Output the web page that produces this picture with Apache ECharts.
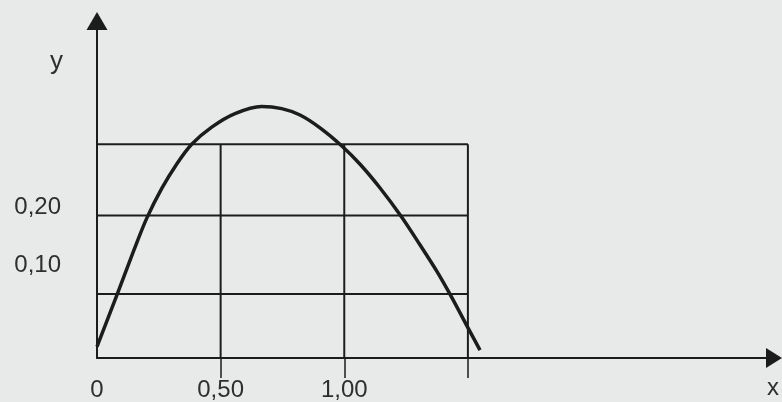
<!DOCTYPE html>
<html>
<head>
<meta charset="utf-8">
<script src="https://cdn.jsdelivr.net/npm/echarts@6/dist/echarts.min.js"></script>
<style>
html,body{margin:0;padding:0;background:#e8eae9;}
#chart{width:782px;height:402px;}
</style>
</head>
<body>
<div id="chart"></div>
<script>
// Curve
var curveX = [0, 0.080, 0.150, 0.201, 0.262, 0.322, 0.383, 0.464, 0.558, 0.666, 0.747, 0.821, 0.902, 0.989, 1.064, 1.144, 1.232, 1.306, 1.374, 1.427, 1.501, 1.549];
var curveY = [0.016, 0.088, 0.152, 0.196, 0.238, 0.272, 0.300, 0.324, 0.343, 0.353, 0.350, 0.341, 0.323, 0.298, 0.272, 0.239, 0.198, 0.159, 0.122, 0.090, 0.042, 0.011];
// Grid box lines (as drawn in the picture)
var hLineValues = [0.09, 0.20, 0.30];
var vLineValues = [0.50, 1.00, 1.50];
var boxRightX = 1.50;
var boxTopY = 0.30;
// Tick labels
var xTickValues = [0, 0.5, 1.0];
var xTickLabels = ['0', '0,50', '1,00'];
var xTickMarks = [0.5, 1.0, 1.5];
var yTickValues = [0.130, 0.212];
var yTickLabels = ['0,10', '0,20'];

var INK = '#1c1c1c';
var TXT = '#2e2e2e';
var FONT = 'Liberation Sans';

var series = [];
series.push({
  type: 'line',
  data: curveX.map(function (x, i) { return [x, curveY[i]]; }),
  smooth: 0.33,
  symbol: 'none',
  lineStyle: { color: INK, width: 3.5 },
  clip: false,
  z: 5
});
hLineValues.forEach(function (v) {
  series.push({
    type: 'line', symbol: 'none', silent: true,
    data: [[0, v], [boxRightX, v]],
    lineStyle: { color: INK, width: 2 }, z: 3
  });
});
vLineValues.forEach(function (v) {
  series.push({
    type: 'line', symbol: 'none', silent: true,
    data: [[v, 0], [v, boxTopY]],
    lineStyle: { color: INK, width: 2 }, z: 3
  });
});

var chart = echarts.init(document.getElementById('chart'), null, { renderer: 'canvas' });
chart.setOption({
  backgroundColor: '#e8eae9',
  animation: false,
  grid: { left: 97, right: 8, top: 21, bottom: 42 },
  xAxis: {
    type: 'value', min: 0, max: 2.738,
    name: 'x', nameLocation: 'end', nameGap: -1,
    nameTextStyle: { color: TXT, fontFamily: FONT, fontSize: 24, align: 'center', verticalAlign: 'top', padding: [18, 0, 0, 0] },
    axisLine: { show: true, onZero: false, symbol: ['none', 'triangle'], symbolSize: [20, 16], lineStyle: { color: INK, width: 2 } },
    axisTick: { show: true, customValues: xTickMarks, length: 20, lineStyle: { color: INK, width: 1.5 } },
    axisLabel: {
      customValues: xTickValues, margin: 20, color: TXT, fontFamily: FONT, fontSize: 24,
      formatter: function (v) { var i = xTickValues.indexOf(v); return i >= 0 ? xTickLabels[i] : ''; }
    },
    splitLine: { show: false }
  },
  yAxis: {
    type: 'value', min: 0, max: 0.473,
    name: 'y', nameLocation: 'end', nameGap: -41,
    nameTextStyle: { color: TXT, fontFamily: FONT, fontSize: 26, align: 'right', verticalAlign: 'middle', padding: [0, 34, 0, 0] },
    axisLine: { show: true, onZero: false, symbol: ['none', 'triangle'], symbolSize: [21, 18], lineStyle: { color: INK, width: 2 } },
    axisTick: { show: false },
    axisLabel: {
      customValues: yTickValues, margin: 36, color: TXT, fontFamily: FONT, fontSize: 24,
      formatter: function (v) { var i = yTickValues.indexOf(v); return i >= 0 ? yTickLabels[i] : ''; }
    },
    splitLine: { show: false }
  },
  series: series
});
</script>
</body>
</html>
